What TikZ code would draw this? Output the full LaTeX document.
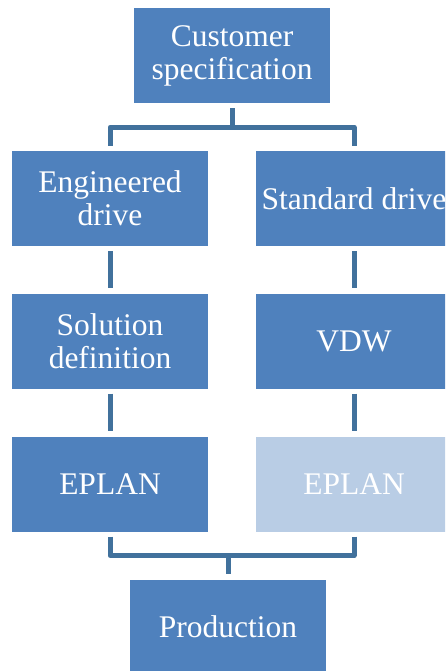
\documentclass[tikz,border=0pt]{standalone}
\usepackage{fontspec}
\setmainfont{Liberation Serif}
\usepackage{tikz}

\begin{document}
\begin{tikzpicture}[
      x=1pt,y=-1pt,
      box/.style={fill=boxblue,text=white,minimum width=196pt,minimum height=95pt,
        inner sep=0pt,align=center,font=\fontsize{31.5}{33}\selectfont},
      lightbox/.style={box,fill=boxlight},
      conn/.style={draw=lineblue,line width=5pt,line join=round,shorten >=5pt,shorten <=5pt}
      ]
      \definecolor{boxblue}{HTML}{4F81BD}
      \definecolor{boxlight}{HTML}{B9CDE5}
      \definecolor{lineblue}{HTML}{41719C}
      \useasboundingbox (0,0) rectangle (445,671);
      \clip (0,0) rectangle (445,671);
      \node[box] (cust) at (232,55.5) {Customer\\specification};
      \node[box] (eng) at (110,198.5) {Engineered\\drive};
      \node[box] (std) at (354,198.5) {Standard drive};
      \node[box] (sol) at (110,341) {Solution\\definition};
      \node[box] (vdw) at (354,341) {VDW};
      \node[box] (eplan) at (110,484) {EPLAN};
      \node[lightbox] (eplanr) at (354,484) {EPLAN};
      \node[box] (prod) at (228,627) {Production};
      \coordinate (topbar) at ([yshift=-24pt]cust.south);
      \coordinate (botbar) at ([yshift=-24pt]eplan.south);
      \draw[conn,shorten >=0pt] (cust.south) -- (topbar);
      \draw[conn,shorten <=0pt] (topbar) -| (eng.north);
      \draw[conn,shorten <=0pt] (topbar) -| (std.north);
      \draw[conn] (eng.south) -- (sol.north);
      \draw[conn] (std.south) -- (vdw.north);
      \draw[conn] (sol.south) -- (eplan.north);
      \draw[conn] (vdw.south) -- (eplanr.north);
      \draw[conn,shorten >=0pt] (eplan.south) |- (botbar -| prod.north);
      \draw[conn,shorten >=0pt] (eplanr.south) |- (botbar -| prod.north);
      \draw[conn,shorten <=0pt] (botbar -| prod.north) -- (prod.north);
    \end{tikzpicture}
\end{document}
